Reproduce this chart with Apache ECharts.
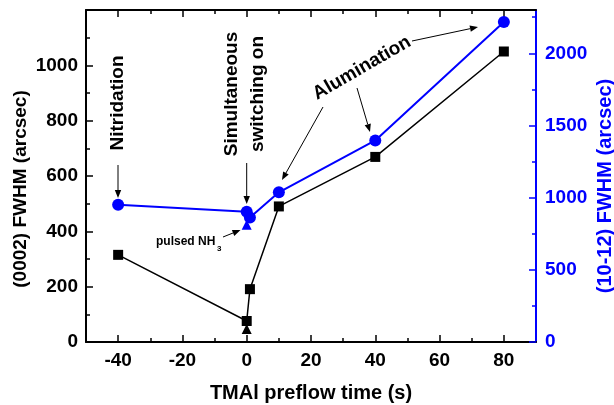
<!DOCTYPE html>
<html>
<head>
<meta charset="utf-8">
<script src="https://cdn.jsdelivr.net/npm/echarts@6/dist/echarts.min.js"></script>
<style>html,body{margin:0;padding:0;background:#fff}#c{width:614px;height:405px}</style>
</head>
<body>
<div id="c"></div>
<script>
// ---- data ----
const xTicks = [-40, -20, 0, 20, 40, 60, 80];
const xMinor = [-30, -10, 10, 30, 50, 70];
const leftTicks = [0, 200, 400, 600, 800, 1000];
const leftMinor = [100, 300, 500, 700, 900, 1100];
const rightTicks = [0, 500, 1000, 1500, 2000];
const rightMinor = [250, 750, 1250, 1750, 2250];

const preflowX = [-40, 0, 1, 10, 40, 80];
const fwhm0002 = [315, 76, 191, 490, 669, 1050];
const fwhm1012 = [951, 903, 863, 1037, 1396, 2217];

const pulsedX = [0];
const pulsed0002 = [47];
const pulsed1012 = [812];

// ---- chart ----
const FONT = '"Liberation Sans", Arial, sans-serif';
const BLUE = '#0000ff';
const chart = echarts.init(document.getElementById('c'), null, {renderer: 'canvas'});

function pairs(xs, ys) { return xs.map((x, i) => [x, ys[i]]); }

function arrow(x1, y1, x2, y2) {
  const dx = x2 - x1, dy = y2 - y1, L = Math.hypot(dx, dy);
  const ux = dx / L, uy = dy / L, hl = 8, hw = 3.2;
  const bx = x2 - ux * hl, by = y2 - uy * hl;
  return [
    {type: 'line', shape: {x1: x1, y1: y1, x2: bx, y2: by}, style: {stroke: '#000', lineWidth: 1}},
    {type: 'polygon', shape: {points: [[x2, y2], [bx - uy * hw, by + ux * hw], [bx + uy * hw, by - ux * hw]]}, style: {fill: '#000'}}
  ];
}

function label(text, x, y, rot, size, lh, color) {
  const st = {text: text, fill: color || '#000', font: 'bold ' + size + 'px ' + FONT, align: 'center', verticalAlign: 'middle'};
  if (lh) st.lineHeight = lh;
  return {type: 'text', x: x, y: y, rotation: rot, style: st};
}

const axisText = {fontFamily: FONT, fontWeight: 'bold', fontSize: 19, formatter: function (v) { return String(v); }};

function minorAxis(pos, min, max, vals, color, len) {
  return {
    type: 'value', position: pos, min: min, max: max,
    axisLine: {show: false, onZero: false},
    axisTick: {show: true, inside: true, length: len, customValues: vals, lineStyle: {color: color, width: 1.5}},
    axisLabel: {show: false}, splitLine: {show: false}
  };
}

const graphics = [].concat(
  [label('(0002) FWHM (arcsec)', 21, 189, Math.PI / 2, 19)],
  [label('(10-12) FWHM (arcsec)', 605, 186, Math.PI / 2, 20, null, BLUE)],
  [label('Nitridation', 118, 103, Math.PI / 2, 19)],
  arrow(118, 165, 118, 198),
  [label('Simultaneous\nswitching on', 245, 94, Math.PI / 2, 19, 26)],
  arrow(246.7, 163, 246.7, 204),
  [label('Alumination', 362, 68, 30 * Math.PI / 180, 19)],
  arrow(412, 41, 478, 27),
  arrow(357, 88, 370, 132),
  arrow(323, 107, 282, 180),
  [{type: 'text', x: 156, y: 242, style: {text: 'pulsed NH', fill: '#000', font: 'bold 12px ' + FONT, align: 'left', verticalAlign: 'middle'}},
   {type: 'text', x: 217, y: 249, style: {text: '3', fill: '#000', font: 'bold 8px ' + FONT, align: 'left', verticalAlign: 'middle'}}],
  arrow(223, 237, 240.5, 230)
);

const option = {
  animation: false,
  backgroundColor: '#fff',
  grid: {left: 86, right: 78, top: 10, bottom: 63, containLabel: false, outerBoundsMode: 'none'},
  xAxis: [
    {
      type: 'value', position: 'bottom', min: -50, max: 90,
      name: 'TMAl preflow time (s)', nameLocation: 'middle', nameGap: 41,
      nameTextStyle: {color: '#000', fontSize: 20, fontFamily: FONT, fontWeight: 'bold'},
      axisLine: {show: true, onZero: false, lineStyle: {color: '#000', width: 2}},
      axisTick: {show: true, inside: true, length: 7, customValues: xTicks, lineStyle: {color: '#000', width: 1.5}},
      axisLabel: Object.assign({color: '#000', margin: 9, customValues: xTicks}, axisText),
      splitLine: {show: false}
    },
    minorAxis('bottom', -50, 90, xMinor, '#000', 4),
    {
      type: 'value', position: 'top', min: -50, max: 90,
      axisLine: {show: true, onZero: false, lineStyle: {color: '#000', width: 2}},
      axisTick: {show: true, inside: true, length: 7, customValues: xTicks, lineStyle: {color: '#000', width: 1.5}},
      axisLabel: {show: false}, splitLine: {show: false}
    },
    minorAxis('top', -50, 90, xMinor, '#000', 4)
  ],
  yAxis: [
    {
      type: 'value', position: 'left', min: 0, max: 1200,
      axisLine: {show: true, onZero: false, lineStyle: {color: '#000', width: 2}},
      axisTick: {show: true, inside: true, length: 7, customValues: leftTicks, lineStyle: {color: '#000', width: 1.5}},
      axisLabel: Object.assign({color: '#000', margin: 8, customValues: leftTicks}, axisText),
      splitLine: {show: false}
    },
    {
      type: 'value', position: 'right', min: 0, max: 2300,
      axisLine: {show: true, onZero: false, lineStyle: {color: BLUE, width: 2}},
      axisTick: {show: true, inside: true, length: 7, customValues: rightTicks, lineStyle: {color: BLUE, width: 1.5}},
      axisLabel: Object.assign({color: BLUE, margin: 9, customValues: rightTicks}, axisText),
      splitLine: {show: false}
    },
    minorAxis('left', 0, 1200, leftMinor, '#000', 4),
    minorAxis('right', 0, 2300, rightMinor, BLUE, 4)
  ],
  series: [
    {
      type: 'line', xAxisIndex: 0, yAxisIndex: 0, data: pairs(preflowX, fwhm0002),
      symbol: 'rect', symbolSize: 10, itemStyle: {color: '#000', opacity: 1},
      lineStyle: {color: '#000', width: 1.5}, z: 3
    },
    {
      type: 'scatter', xAxisIndex: 0, yAxisIndex: 0, data: pairs(pulsedX, pulsed0002),
      symbol: 'triangle', symbolSize: 10, itemStyle: {color: '#000', opacity: 1}, z: 2
    },
    {
      type: 'line', xAxisIndex: 0, yAxisIndex: 1, data: pairs(preflowX, fwhm1012),
      symbol: 'circle', symbolSize: 12, itemStyle: {color: BLUE, opacity: 1},
      lineStyle: {color: BLUE, width: 2}, z: 4
    },
    {
      type: 'scatter', xAxisIndex: 0, yAxisIndex: 1, data: pairs(pulsedX, pulsed1012),
      symbol: 'triangle', symbolSize: 10, itemStyle: {color: BLUE, opacity: 1}, z: 3
    }
  ],
  graphic: graphics
};
chart.setOption(option);
</script>
</body>
</html>
